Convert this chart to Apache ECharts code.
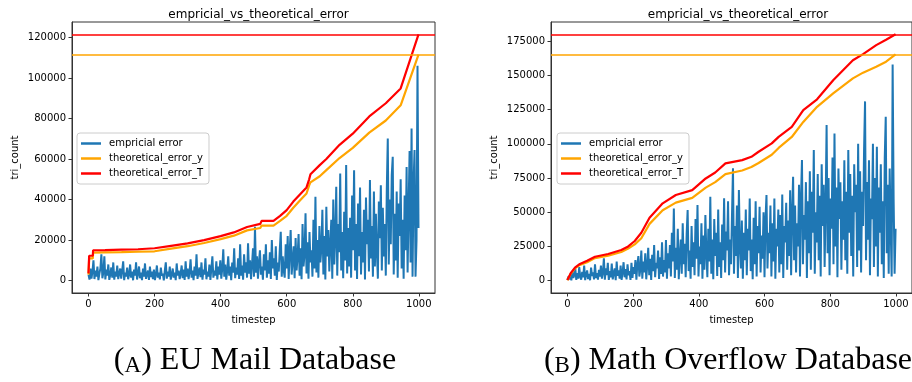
<!DOCTYPE html>
<html>
<head>
<meta charset="utf-8">
<script src="https://cdn.jsdelivr.net/npm/echarts@6/dist/echarts.min.js"></script>
<style>
  html, body { margin: 0; padding: 0; background: #fff; }
  #chart { width: 912px; height: 382px; }
</style>
</head>
<body>
<div id="chart"></div>
<script>
// --- EU Mail: empirical error, one value every 3 timesteps (t = 0, 3, ..., 999)
const euErr = [
  3000, 500, 6000, 1000, 4500, 10000, 800, 5000, 2000, 7000, 300, 3500, 6000, 13000, 1200, 4000, 12000, 600, 5500, 2500, 8000, 400, 3000, 6500, 1500, 9000, 500, 4500, 2000, 7500, 800, 3500, 6000,
  1000, 5000, 9500, 300, 4000, 2000, 6500, 700, 3000, 8000, 1500, 4500, 200, 5500, 2500, 9000, 600, 3500, 7000, 1200, 4000, 300, 6000, 2000, 8500, 900, 3000, 5000, 400, 7000, 1800, 4500, 800,
  5500, 300, 3000, 7500, 1500, 4000, 600, 6500, 2500, 3500, 200, 5000, 9000, 1000, 4500, 2000, 7000, 500, 3000, 6000, 1500, 4000, 300, 8500, 2500, 5000, 800, 3500, 7500, 1200, 5500, 400, 9500,
  2000, 6000, 800, 4500, 10500, 1500, 5000, 300, 7000, 2500, 13000, 900, 4000, 6500, 1800, 9000, 500, 5500, 3000, 11000, 700, 4500, 2000, 8000, 400, 6000, 12000, 1500, 5000, 2500, 9500, 600, 7000,
  3000, 10000, 1000, 6000, 15500, 2000, 8000, 500, 5000, 12000, 2500, 7000, 300, 9000, 4000, 16000, 1200, 6500, 3000, 11000, 800, 18000, 2500, 7500, 500, 13000, 4000, 9000, 1500, 18500, 3500, 10000, 700,
  8000, 16000, 2000, 26600, 4000, 12000, 1000, 9000, 15000, 3000, 7000, 500, 13000, 5000, 18000, 1500, 10000, 3500, 14000, 800, 20000, 6000, 11000, 2500, 17000, 400, 9000, 4500, 15000, 24100, 2000, 12000, 5000,
  1500, 18000, 6000, 22000, 800, 14000, 25000, 3000, 10000, 17000, 1200, 21000, 5000, 12000, 23000, 2500, 16000, 700, 28000, 7000, 13000, 33200, 3500, 19000, 1000, 24000, 9000, 15000, 2000, 30000, 6000, 41400, 4000,
  20000, 1500, 27000, 9000, 16000, 35000, 3000, 22000, 600, 36400, 12000, 25000, 4500, 18000, 30000, 1000, 40000, 8000, 21000, 46300, 2500, 28000, 14000, 52900, 5000, 24000, 1200, 34000, 10000, 57000, 3500, 26000, 7000,
  31000, 1500, 42000, 15000, 54500, 5000, 28000, 800, 38000, 12000, 46000, 3000, 24000, 9000, 35000, 600, 41000, 18000, 30000, 4500, 49600, 11000, 27000, 2000, 44000, 7000, 33000, 14000, 1000, 39000, 21000, 47000, 5000,
  36000, 12000, 28000, 2500, 45000, 70100, 8000, 40000, 18000, 52000, 61100, 3000, 33000, 10000, 44000, 1500, 38000, 22000, 50000, 6000, 30000, 1000, 42000, 15000, 56000, 4000, 35000, 64000, 9000, 75100, 2000, 48000, 64400,
  2000, 20000, 106000, 26000
];

// EU Mail: theoretical bounds (breakpoints)
const euTheoSteps = [0, 2, 13, 14, 50, 100, 150, 200, 250, 300, 350, 400, 440, 480, 520, 524, 560, 580, 600, 620, 640, 660, 668, 672, 700, 720, 760, 800, 850, 900, 945, 999];
const euTheoY = [3000, 11000, 11000, 13800, 14000, 14100, 14300, 14500, 15800, 17000, 18600, 20500, 22200, 24800, 26000, 27200, 27200, 29500, 32000, 36000, 39500, 43000, 47000, 48500, 51500, 54500, 60500, 65500, 73000, 79000, 86500, 111500];
const euTheoT = [3600, 12300, 12300, 15000, 15100, 15300, 15500, 16000, 17200, 18400, 20000, 22000, 23800, 26500, 28000, 29500, 29500, 32000, 34800, 39000, 42500, 46000, 50000, 52500, 57000, 60000, 67000, 72500, 81000, 87500, 94800, 121500];

// --- Math Overflow: empirical error, one value every 3 timesteps
const moErr = [
  500, 3000, 1000, 5000, 200, 7000, 2000, 4000, 9000, 600, 5500, 1500, 10000, 3000, 800, 6500, 2500, 11000, 400, 4500, 7500, 1200, 5000, 300, 9500, 3500, 6000, 1000, 12000, 2000, 5500, 700, 8000,
  3000, 11000, 1500, 6000, 16300, 800, 9000, 4000, 13000, 500, 7000, 2500, 12500, 1000, 5500, 9000, 300, 14000, 3500, 7500, 1500, 11000, 600, 6000, 13500, 2500, 8500, 1000, 12000, 4000, 7000, 500, 13000,
  2000, 10000, 5000, 15000, 800, 12000, 18000, 3000, 8000, 22000, 1500, 14000, 6000, 20000, 1000, 11000, 24000, 4000, 16000, 500, 19000, 7000, 26000, 2500, 13000, 9000, 22000, 1200, 17000, 5000, 28000, 3000, 15000,
  6000, 29700, 1500, 20000, 9000, 26000, 3000, 35000, 14000, 52800, 2000, 24000, 8000, 38000, 1000, 18000, 30000, 5000, 42000, 12000, 27000, 2500, 34000, 51600, 7000, 22000, 1500, 40000, 10000, 28000, 4000, 45000, 16000,
  55300, 3000, 25000, 12000, 42000, 1500, 33000, 8000, 48000, 20000, 2500, 38000, 14000, 61400, 5000, 30000, 1000, 45000, 18000, 35000, 3500, 52000, 10000, 28000, 2000, 41000, 15000, 60200, 6000, 36000, 22000, 58000, 4000,
  30000, 12000, 48000, 82100, 5000, 40000, 18000, 55000, 2000, 66200, 25000, 9000, 44000, 1500, 35000, 15000, 52000, 4000, 38000, 22000, 60000, 7000, 30000, 1000, 46000, 12000, 58000, 3000, 40000, 20000, 54000, 6000, 33000,
  16000, 50000, 2500, 45000, 62600, 9000, 35000, 20000, 55000, 3000, 42000, 14000, 60000, 1500, 38000, 25000, 52000, 6000, 48000, 12000, 63000, 2000, 40000, 28000, 57000, 8000, 44000, 18000, 66000, 4000, 50000, 75900, 15000,
  55000, 6000, 42000, 25000, 70000, 3000, 60000, 88100, 12000, 48000, 30000, 72000, 2000, 58000, 20000, 80000, 8000, 65000, 35000, 95400, 5000, 50000, 28000, 78000, 15000, 62000, 3000, 85000, 40000, 70000, 10000, 55000, 113700,
  20000, 75000, 4000, 60000, 38000, 90000, 12000, 107600, 25000, 68000, 2500, 82000, 45000, 72000, 8000, 58000, 30000, 88000, 15000, 65000, 5000, 95400, 35000, 78000, 18000, 62000, 3000, 85000, 50000, 70000, 10000, 100000, 22000,
  80000, 6000, 65000, 40000, 95000, 131000, 15000, 72000, 30000, 88000, 4000, 60000, 45000, 100000, 10000, 75000, 25000, 97800, 3000, 68000, 35000, 85000, 12000, 58000, 2000, 90000, 119800, 20000, 70000, 5000, 82000, 40000, 3000,
  158000, 60000, 5000, 38000
];

const moTheoSteps = [0, 10, 23, 38, 60, 84, 124, 164, 185, 205, 225, 250, 290, 330, 380, 421, 450, 481, 532, 560, 582, 622, 643, 683, 718, 760, 809, 869, 900, 940, 970, 999];
const moTheoY = [400, 5000, 9000, 11500, 13500, 16500, 18300, 21000, 23500, 26500, 31000, 41500, 51500, 57000, 60500, 68000, 72000, 77900, 80500, 83000, 86000, 92000, 97000, 105000, 116000, 127000, 136800, 147800, 152000, 156300, 160000, 165300];
const moTheoT = [500, 5500, 9500, 12200, 14500, 17500, 19500, 22400, 25000, 29000, 35000, 46000, 56500, 62600, 66200, 74700, 79000, 85700, 88100, 90500, 94200, 100300, 105100, 112400, 124600, 132500, 146500, 161100, 165500, 172100, 176000, 180000];

const seriesNames = ['empricial error', 'theoretical_error_y', 'theoretical_error_T'];
const xTicks = [0, 200, 400, 600, 800, 1000];
const euYTicks = [0, 20000, 40000, 60000, 80000, 100000, 120000];
const moYTicks = [0, 25000, 50000, 75000, 100000, 125000, 150000, 175000];
const chartTitle = 'empricial_vs_theoretical_error';
const captions = ['({sc|A}) EU Mail Database', '({sc|B}) Math Overflow Database'];

const BLUE = '#1f77b4';
const ORANGE = '#ffa500';
const RED = '#ff0000';
const SANS = 'DejaVu Sans';

const sampled = (vals) => vals.map((v, i) => [i * 3, v]);
const paired = (steps, vals) => steps.map((t, i) => [t, vals[i]]);

function xAxisFor(gridIndex) {
  return {
    type: 'value', gridIndex, min: -49.95, max: 1048.95,
    name: 'timestep', nameLocation: 'middle', nameGap: 22,
    nameTextStyle: { fontFamily: SANS, fontSize: 10, color: '#000' },
    axisLine: { show: true, onZero: false, lineStyle: { color: '#333', width: 1 } },
    axisTick: { show: true, length: 3.5, customValues: xTicks, lineStyle: { color: '#333' } },
    axisLabel: { margin: 6, customValues: xTicks, fontFamily: SANS, fontSize: 10, color: '#000', formatter: (v) => String(v) },
    splitLine: { show: false }
  };
}

function yAxisFor(gridIndex, min, max, ticks) {
  return {
    type: 'value', gridIndex, min, max,
    name: 'tri_count', nameLocation: 'middle', nameGap: 52,
    nameTextStyle: { fontFamily: SANS, fontSize: 10, color: '#000' },
    axisLine: { show: true, onZero: false, lineStyle: { color: '#333', width: 1 } },
    axisTick: { show: true, length: 3.5, customValues: ticks, lineStyle: { color: '#333' } },
    axisLabel: { margin: 6, customValues: ticks, fontFamily: SANS, fontSize: 10, color: '#000', formatter: (v) => String(v) },
    splitLine: { show: false }
  };
}

function seriesFor(idx, err, steps, theoY, theoT) {
  const base = { type: 'line', xAxisIndex: idx, yAxisIndex: idx, symbol: 'none', silent: true, animation: false, sampling: null };
  const hline = (value, color) => ({
    silent: true, symbol: 'none', label: { show: false },
    lineStyle: { color, width: 1.5, type: 'solid' },
    data: [{ yAxis: value }]
  });
  return [
    { ...base, name: seriesNames[0], data: sampled(err), color: BLUE,
      lineStyle: { color: BLUE, width: 2 }, itemStyle: { color: BLUE } },
    { ...base, name: seriesNames[1], data: paired(steps, theoY), color: ORANGE,
      lineStyle: { color: ORANGE, width: 2.2 }, itemStyle: { color: ORANGE },
      markLine: hline(theoY[theoY.length - 1], ORANGE) },
    { ...base, name: seriesNames[2], data: paired(steps, theoT), color: RED,
      lineStyle: { color: RED, width: 2.2 }, itemStyle: { color: RED },
      markLine: hline(theoT[theoT.length - 1], RED) }
  ];
}

function legendAt(left) {
  return {
    orient: 'vertical', left, top: 133,
    data: seriesNames, icon: 'rect', itemWidth: 20, itemHeight: 2.5, itemGap: 2,
    padding: [4, 6, 4, 4],
    backgroundColor: 'rgba(255,255,255,0.8)', borderColor: '#ccc', borderWidth: 1, borderRadius: 3,
    selectedMode: false,
    textStyle: { fontFamily: SANS, fontSize: 10, color: '#000', lineHeight: 13, padding: [0, 0, 0, 3] }
  };
}

const captionStyle = {
  fontFamily: 'Liberation Serif', fontSize: 32, fontWeight: 'normal', color: '#000',
  rich: { sc: { fontFamily: 'Liberation Serif', fontSize: 23, color: '#000', verticalAlign: 'bottom', lineHeight: 32 } }
};

const chart = echarts.init(document.getElementById('chart'), null, { renderer: 'canvas' });

chart.setOption({
  animation: false,
  backgroundColor: '#fff',
  title: [
    { text: chartTitle, left: 253.5, top: 4, textAlign: 'center',
      textStyle: { fontFamily: SANS, fontSize: 12, fontWeight: 'normal', color: '#000' } },
    { text: chartTitle, left: 733, top: 4, textAlign: 'center',
      textStyle: { fontFamily: SANS, fontSize: 12, fontWeight: 'normal', color: '#000' } },
    { text: captions[0], left: 250, top: 340, textAlign: 'center', textStyle: captionStyle },
    { text: captions[1], left: 723, top: 340, textAlign: 'center', textStyle: captionStyle }
  ],
  grid: [
    { left: 72, top: 22, width: 363, height: 271, show: true, borderColor: '#333', borderWidth: 1, backgroundColor: 'transparent' },
    { left: 551, top: 22, width: 364, height: 271, show: true, borderColor: '#333', borderWidth: 1, backgroundColor: 'transparent' }
  ],
  legend: [legendAt(77), legendAt(557)],
  xAxis: [xAxisFor(0), xAxisFor(1)],
  yAxis: [yAxisFor(0, -6075, 127575, euYTicks), yAxisFor(1, -9000, 189000, moYTicks)],
  series: [
    ...seriesFor(0, euErr, euTheoSteps, euTheoY, euTheoT),
    ...seriesFor(1, moErr, moTheoSteps, moTheoY, moTheoT)
  ]
});
</script>
</body>
</html>
